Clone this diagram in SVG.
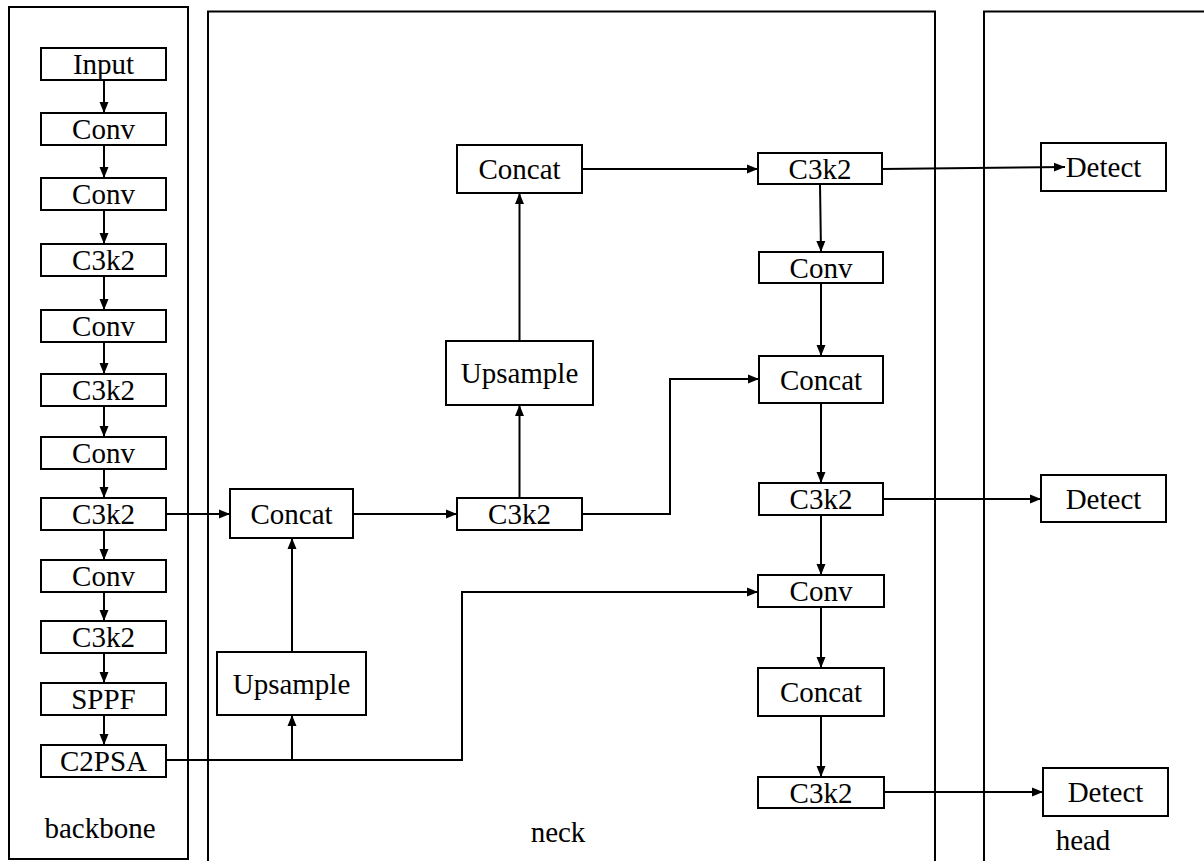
<svg xmlns="http://www.w3.org/2000/svg" width="1204" height="861" viewBox="0 0 1204 861">
<defs>
<marker id="ah" markerUnits="userSpaceOnUse" markerWidth="12" markerHeight="10" refX="11" refY="5" orient="auto">
<path d="M0,0.5 L11,5 L0,9.5 z" fill="#000"/>
</marker>
<style>
.panel{fill:none;stroke:#000;stroke-width:2}
.box{fill:#fff;stroke:#000;stroke-width:2}
.t{font-family:"Liberation Serif","Times New Roman",serif;font-size:29px;fill:#000;text-anchor:middle}
.c{fill:none;stroke:#000;stroke-width:2;marker-end:url(#ah)}
</style>
</defs>
<rect width="1204" height="861" fill="#fff"/>
<g id="panels">
<rect class="panel" x="9" y="7" width="179" height="852"/>
<rect class="panel" x="208" y="11.5" width="727" height="870"/>
<rect class="panel" x="984" y="11.5" width="240" height="870"/>
<text class="t" x="100" y="838">backbone</text>
<text class="t" x="558" y="842">neck</text>
<text class="t" x="1083" y="850">head</text>
</g>
<g id="connectors">
<line class="c" x1="104" y1="80" x2="104" y2="113"/>
<line class="c" x1="104" y1="145" x2="104" y2="178"/>
<line class="c" x1="104" y1="210" x2="104" y2="244"/>
<line class="c" x1="104" y1="276" x2="104" y2="310"/>
<line class="c" x1="104" y1="342" x2="104" y2="374"/>
<line class="c" x1="104" y1="406" x2="104" y2="437"/>
<line class="c" x1="104" y1="469" x2="104" y2="498"/>
<line class="c" x1="104" y1="530" x2="104" y2="560"/>
<line class="c" x1="104" y1="592" x2="104" y2="621"/>
<line class="c" x1="104" y1="653" x2="104" y2="683"/>
<line class="c" x1="104" y1="715" x2="104" y2="745"/>
<polyline class="c" points="166,760 462,760 462,592 758,592"/>
<line class="c" x1="292" y1="760" x2="292" y2="715"/>
<line class="c" x1="292" y1="652" x2="292" y2="538"/>
<line class="c" x1="166" y1="514" x2="230" y2="514"/>
<line class="c" x1="353" y1="514" x2="457" y2="514"/>
<line class="c" x1="519.5" y1="498" x2="519.5" y2="405"/>
<line class="c" x1="519.5" y1="341" x2="519.5" y2="193"/>
<line class="c" x1="582" y1="169" x2="758" y2="169"/>
<polyline class="c" points="582,514 670,514 670,379 759,379"/>
<line class="c" x1="820" y1="184" x2="821" y2="252"/>
<line class="c" x1="821" y1="283" x2="821" y2="356"/>
<line class="c" x1="821" y1="403" x2="821" y2="483"/>
<line class="c" x1="883" y1="499" x2="1041" y2="499"/>
<line class="c" x1="821" y1="515" x2="821" y2="575"/>
<line class="c" x1="821" y1="607" x2="821" y2="668"/>
<line class="c" x1="821" y1="716" x2="821" y2="777"/>
<line class="c" x1="884" y1="792" x2="1043" y2="792"/>
</g>
<g id="bb-input"><rect class="box" x="41" y="48" width="125" height="32"/><text class="t" x="103.5" y="74">Input</text></g>
<g id="bb-conv1"><rect class="box" x="41" y="113" width="125" height="32"/><text class="t" x="103.5" y="139">Conv</text></g>
<g id="bb-conv2"><rect class="box" x="41" y="178" width="125" height="32"/><text class="t" x="103.5" y="204">Conv</text></g>
<g id="bb-c3k2-1"><rect class="box" x="41" y="244" width="125" height="32"/><text class="t" x="103.5" y="270">C3k2</text></g>
<g id="bb-conv3"><rect class="box" x="41" y="310" width="125" height="32"/><text class="t" x="103.5" y="336">Conv</text></g>
<g id="bb-c3k2-2"><rect class="box" x="41" y="374" width="125" height="32"/><text class="t" x="103.5" y="400">C3k2</text></g>
<g id="bb-conv4"><rect class="box" x="41" y="437" width="125" height="32"/><text class="t" x="103.5" y="463">Conv</text></g>
<g id="bb-c3k2-3"><rect class="box" x="41" y="498" width="125" height="32"/><text class="t" x="103.5" y="524">C3k2</text></g>
<g id="bb-conv5"><rect class="box" x="41" y="560" width="125" height="32"/><text class="t" x="103.5" y="586">Conv</text></g>
<g id="bb-c3k2-4"><rect class="box" x="41" y="621" width="125" height="32"/><text class="t" x="103.5" y="647">C3k2</text></g>
<g id="bb-sppf"><rect class="box" x="41" y="683" width="125" height="32"/><text class="t" x="103.5" y="709">SPPF</text></g>
<g id="bb-c2psa"><rect class="box" x="41" y="745" width="125" height="32"/><text class="t" x="103.5" y="771">C2PSA</text></g>
<g id="nk-concat1"><rect class="box" x="230" y="489" width="123" height="49"/><text class="t" x="291.5" y="524">Concat</text></g>
<g id="nk-upsample1"><rect class="box" x="217" y="652" width="149" height="63"/><text class="t" x="291.5" y="694">Upsample</text></g>
<g id="nk-c3k2-mid"><rect class="box" x="457" y="498" width="125" height="32"/><text class="t" x="519.5" y="524">C3k2</text></g>
<g id="nk-upsample2"><rect class="box" x="446" y="341" width="147" height="64"/><text class="t" x="519.5" y="383">Upsample</text></g>
<g id="nk-concat2"><rect class="box" x="457" y="145" width="125" height="48"/><text class="t" x="519.5" y="179">Concat</text></g>
<g id="nk-c3k2-r1"><rect class="box" x="758" y="153" width="124" height="31"/><text class="t" x="820" y="179">C3k2</text></g>
<g id="nk-conv-r1"><rect class="box" x="759" y="252" width="124" height="31"/><text class="t" x="821" y="278">Conv</text></g>
<g id="nk-concat-r2"><rect class="box" x="759" y="356" width="124" height="47"/><text class="t" x="821" y="390">Concat</text></g>
<g id="nk-c3k2-r2"><rect class="box" x="759" y="483" width="124" height="32"/><text class="t" x="821" y="509">C3k2</text></g>
<g id="nk-conv-r3"><rect class="box" x="758" y="575" width="126" height="32"/><text class="t" x="821" y="601">Conv</text></g>
<g id="nk-concat-r3"><rect class="box" x="758" y="668" width="126" height="48"/><text class="t" x="821" y="702">Concat</text></g>
<g id="nk-c3k2-r3"><rect class="box" x="758" y="777" width="126" height="31"/><text class="t" x="821" y="803">C3k2</text></g>
<g id="hd-detect1"><rect class="box" x="1041" y="143" width="125" height="48"/><text class="t" x="1103.5" y="177">Detect</text></g>
<g id="hd-detect2"><rect class="box" x="1041" y="475" width="125" height="47"/><text class="t" x="1103.5" y="509">Detect</text></g>
<g id="hd-detect3"><rect class="box" x="1043" y="768" width="125" height="48"/><text class="t" x="1105.5" y="802">Detect</text></g>
<g id="connectors-top">
<line class="c" x1="882" y1="169" x2="1065" y2="167"/>
</g>
</svg>
